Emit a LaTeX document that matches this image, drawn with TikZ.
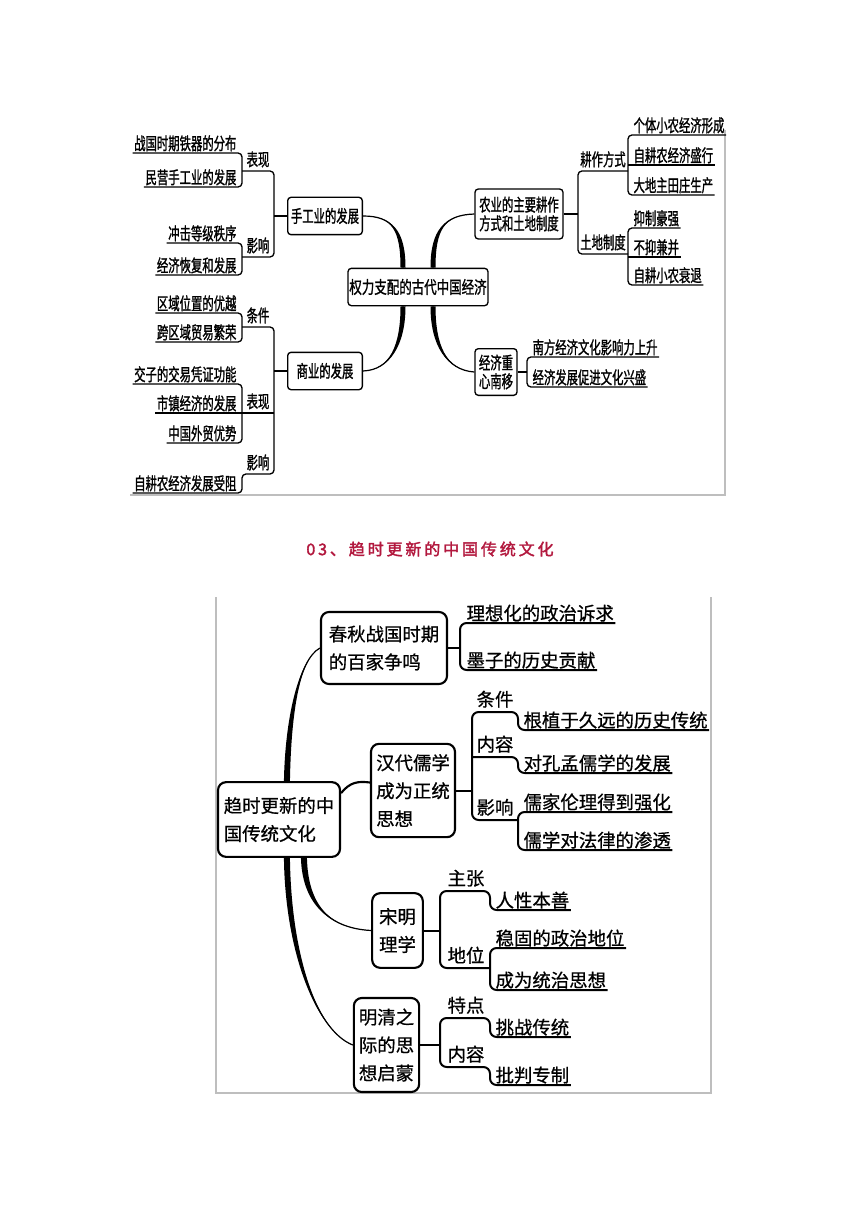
\documentclass[tikz,border=0pt]{standalone}
\usepackage{fontspec}
\newfontfamily\cjk[FakeBold=0.7]{Noto Sans CJK SC}
\newfontfamily\cjkn[FakeStretch=0.655,FakeBold=1.2]{Noto Sans CJK SC}
\newfontfamily\cjkc[FakeStretch=0.72,FakeBold=1.2]{Noto Sans CJK SC}
\newfontfamily\cjkt[LetterSpace=18,FakeBold=2.2]{Noto Sans CJK SC}
\usetikzlibrary{calc}
\definecolor{titlered}{RGB}{178,24,62}
\definecolor{framegray}{RGB}{190,190,190}
\newcommand\taperline[5]{%
  \fill ($(#1)+(-#5,0)$) .. controls ($(#2)+(-#5,0)$) and (#3) .. (#4)
        .. controls (#3) and ($(#2)+(#5,0)$) .. ($(#1)+(#5,0)$) -- cycle;
  \draw[line width=0.9pt] (#1) .. controls (#2) and (#3) .. (#4);}
\begin{document}
\begin{tikzpicture}[x=0.75pt,y=-0.75pt,
  tfont/.style={font=\cjkn\fontsize{13}{13.5}\selectfont},
  tbox/.style={draw, line width=1pt, rounded corners=2.5pt, fill=white, align=center, inner sep=1pt, tfont},
  litem/.style={anchor=south east, inner xsep=1pt, inner ysep=1pt, tfont},
  ritem/.style={anchor=south west, inner xsep=1pt, inner ysep=1pt, tfont},
  tlab/.style={anchor=south, inner xsep=1pt, inner ysep=2.5pt, tfont},
  tconn/.style={line width=1pt, rounded corners=3pt},
  bfont/.style={font=\cjk\fontsize{13.8}{21}\selectfont},
  bbox/.style={draw, line width=1.6pt, rounded corners=6pt, fill=white, align=left, inner sep=2pt, bfont},
  bitem/.style={anchor=south west, inner xsep=1pt, inner ysep=0.8pt, bfont},
  blab/.style={anchor=south, inner xsep=1pt, inner ysep=3pt, bfont},
  bconn/.style={line width=1.5pt, rounded corners=5pt},
  grayframe/.style={draw=framegray, line width=0.8pt}
]
\useasboundingbox (0,0) rectangle (860,1216);

% ---------- frames ----------
\draw[grayframe] (725,130) -- (725,495) -- (130,495);
\draw[grayframe] (216,597) -- (216,1093) -- (711,1093) -- (711,597);

% ---------- top diagram boxes ----------
\node[tbox, font=\cjkc\fontsize{13}{15}\selectfont, minimum width=98pt, minimum height=28pt] (root1) at (418,287) {权力支配的古代中国经济};
\node[tbox, minimum width=56pt, minimum height=28pt] (hand) at (325,216) {手工业的发展};
\node[tbox, minimum width=56pt, minimum height=28pt] (comm) at (325,371) {商业的发展};
\node[tbox, font=\cjkn\fontsize{13}{14}\selectfont, minimum width=66pt, minimum height=37.5pt] (agri) at (519,214) {农业的主要耕作\\方式和土地制度};
\node[tbox, font=\cjkn\fontsize{13}{14}\selectfont, minimum width=31.5pt, minimum height=35pt] (south) at (496,372) {经济重\\心南移};

% tapered branches from the root
\coordinate (s1) at ($(root1.north)+(-15,0)$);
\coordinate (k1) at (403,230); \coordinate (k2) at (392,216);
\taperline{s1}{k1}{k2}{hand.east}{2.5}
\coordinate (s2) at ($(root1.north)+(15,0)$);
\coordinate (k3) at (433,230); \coordinate (k4) at (444,215);
\taperline{s2}{k3}{k4}{agri.west}{2.5}
\coordinate (s3) at ($(root1.south)+(-15,0)$);
\coordinate (k5) at (403,345); \coordinate (k6) at (390,370);
\taperline{s3}{k5}{k6}{comm.east}{2.5}
\coordinate (s4) at ($(root1.south)+(15,0)$);
\coordinate (k7) at (433,345); \coordinate (k8) at (446,370);
\taperline{s4}{k7}{k8}{south.west}{2.5}

% ---------- hand group ----------
\coordinate (LA) at (242,0);
\coordinate (MA) at (274,0);
\node[litem] (a1) at (238,153) {战国时期铁器的分布};
\node[litem] (a2) at (238,187) {民营手工业的发展};
\node[tlab] (labA) at (258,171) {表现};
\node[litem] (a3) at (238,243) {冲击等级秩序};
\node[litem] (a4) at (238,275) {经济恢复和发展};
\node[tlab] (labB) at (258,257) {影响};
\draw[tconn] (a1.south west) -- (LA |- a1.south) -- (LA |- a2.south) -- (a2.south west);
\draw[tconn] (a3.south west) -- (LA |- a3.south) -- (LA |- a4.south) -- (a4.south west);
\draw[tconn] (LA |- labA.south) -- (MA |- labA.south) -- (MA |- labB.south) -- (LA |- labB.south);
\draw[tconn] (hand.west) -- (MA |- hand.west);

% ---------- commerce group ----------
\node[litem] (b1) at (238,313) {区域位置的优越};
\node[litem] (b2) at (238,342) {跨区域贸易繁荣};
\node[tlab] (labC) at (258,327) {条件};
\node[litem] (b3) at (238,384) {交子的交易凭证功能};
\node[litem] (b4) at (238,413) {市镇经济的发展};
\node[litem] (b5) at (238,443) {中国外贸优势};
\node[tlab] (labD) at (258,413) {表现};
\node[litem] (b6) at (238,493) {自耕农经济发展受阻};
\node[tlab] (labE) at (258,474) {影响};
\draw[tconn] (b1.south west) -- (LA |- b1.south) -- (LA |- b2.south) -- (b2.south west);
\draw[tconn] (b3.south west) -- (LA |- b3.south) -- (LA |- b5.south) -- (b5.south west);
\draw[tconn] (b4.south west) -- (LA |- b4.south);
\draw[tconn] (LA |- labC.south) -- (MA |- labC.south) -- (MA |- labE.south) -- (LA |- labE.south) -- (LA |- b6.south) -- (b6.south west);
\draw[tconn] (LA |- labD.south) -- (MA |- labD.south);
\draw[tconn] (comm.west) -- (MA |- comm.west);

% ---------- agriculture group ----------
\coordinate (MR) at (578,0);
\coordinate (LR) at (628,0);
\node[tlab] (labF) at (603,171) {耕作方式};
\node[ritem] (c1) at (632,135) {个体小农经济形成};
\node[ritem] (c2) at (632,165) {自耕农经济盛行};
\node[ritem] (c3) at (632,195) {大地主田庄生产};
\node[tlab] (labG) at (603,254) {土地制度};
\node[ritem] (c4) at (632,228) {抑制豪强};
\node[ritem] (c5) at (632,257) {不抑兼并};
\node[ritem] (c6) at (632,285) {自耕小农衰退};
\draw[tconn] (c1.south east) -- (LR |- c1.south) -- (LR |- c3.south) -- (c3.south east);
\draw[tconn] (c2.south east) -- (LR |- c2.south);
\draw[tconn] (c4.south east) -- (LR |- c4.south) -- (LR |- c6.south) -- (c6.south east);
\draw[tconn] (c5.south east) -- (LR |- c5.south);
\draw[tconn] (LR |- labF.south) -- (MR |- labF.south) -- (MR |- labG.south) -- (LR |- labG.south);
\draw[tconn] (agri.east) -- (MR |- agri.east);

% ---------- south group ----------
\coordinate (LS) at (527,0);
\node[ritem] (d1) at (531,357) {南方经济文化影响力上升};
\node[ritem] (d2) at (531,387) {经济发展促进文化兴盛};
\draw[tconn] (d1.south east) -- (LS |- d1.south) -- (LS |- d2.south) -- (d2.south east);
\draw[tconn] (south.east) -- (LS |- south.east);

% ---------- title ----------
\node[font=\cjkt\fontsize{12}{14}\selectfont, text=titlered] (title) at (430,549) {03、趋时更新的中国传统文化};

% ---------- bottom diagram boxes ----------
\node[bbox, minimum width=91.5pt, minimum height=56pt] (root2) at (279,819.5) {趋时更新的中\\国传统文化};
\node[bbox, minimum width=94.5pt, minimum height=54pt] (cq) at (384,648) {春秋战国时期\\的百家争鸣};
\node[bbox, minimum width=63pt, minimum height=70pt] (hd) at (413,790.5) {汉代儒学\\成为正统\\思想};
\node[bbox, minimum width=38pt, minimum height=56pt] (sm) at (397.5,930.5) {宋明\\理学};
\node[bbox, minimum width=49pt, minimum height=70.5pt] (mq) at (386.5,1045) {明清之\\际的思\\想启蒙};

% branches from root2
\coordinate (s5) at ($(root2.north west)+(70,0)$);
\coordinate (k9) at (288,720); \coordinate (k10) at (298,660);
\taperline{s5}{k9}{k10}{cq.west}{3}
\coordinate (s6) at ($(root2.north east)+(0,12)$);
\coordinate (e6) at ($(hd.west)+(0,-8)$);
\draw[line width=1.6pt] (s6) .. controls (350,782) and (358,781) .. (e6);
\coordinate (s7) at ($(root2.south west)+(87,0)$);
\coordinate (k11) at (305,900); \coordinate (k12) at (325,928);
\taperline{s7}{k11}{k12}{sm.west}{3}
\coordinate (s8) at ($(root2.south west)+(70,0)$);
\coordinate (k13) at (288,950); \coordinate (k14) at (315,1030);
\taperline{s8}{k13}{k14}{mq.west}{3}

% ---------- cq group ----------
\coordinate (LC) at (460,0);
\node[bitem] (e1) at (465,623) {理想化的政治诉求};
\node[bitem] (e2) at (465,670) {墨子的历史贡献};
\draw[bconn] (e1.south east) -- (LC |- e1.south) -- (LC |- e2.south) -- (e2.south east);
\draw[bconn] (cq.east) -- (LC |- cq.east);

% ---------- hd group ----------
\coordinate (MH) at (472,0);
\coordinate (LH) at (518,0);
\node[blab] (labH) at (495,712) {条件};
\node[bitem] (f1) at (522,730) {根植于久远的历史传统};
\node[blab] (labI) at (495,757) {内容};
\node[bitem] (f2) at (522,773) {对孔孟儒学的发展};
\node[blab] (labJ) at (495,820) {影响};
\node[bitem] (f3) at (522,812) {儒家伦理得到强化};
\node[bitem] (f4) at (522,850) {儒学对法律的渗透};
\draw[bconn] (f1.south east) -- (LH |- f1.south) -- (LH |- labH.south) -- (MH |- labH.south) -- (MH |- labJ.south) -- (LH |- labJ.south);
\draw[bconn] (MH |- labI.south) -- (LH |- labI.south) -- (LH |- f2.south) -- (f2.south east);
\draw[bconn] (f3.south east) -- (LH |- f3.south) -- (LH |- f4.south) -- (f4.south east);
\draw[bconn] (hd.east) -- (MH |- hd.east);

% ---------- sm group ----------
\coordinate (MS) at (440,0);
\coordinate (LT) at (490,0);
\node[blab] (labK) at (466,891) {主张};
\node[bitem] (g1) at (494,910) {人性本善};
\node[blab] (labL) at (466,968) {地位};
\node[bitem] (g2) at (494,948) {稳固的政治地位};
\node[bitem] (g3) at (494,990) {成为统治思想};
\draw[bconn] (g1.south east) -- (LT |- g1.south) -- (LT |- labK.south) -- (MS |- labK.south) -- (MS |- labL.south) -- (LT |- labL.south);
\draw[bconn] (g2.south east) -- (LT |- g2.south) -- (LT |- g3.south) -- (g3.south east);
\draw[bconn] (sm.east) -- (MS |- sm.east);

% ---------- mq group ----------
\node[blab] (labM) at (466,1018) {特点};
\node[bitem] (h1) at (494,1037) {挑战传统};
\node[blab] (labN) at (466,1067) {内容};
\node[bitem] (h2) at (494,1085) {批判专制};
\draw[bconn] (h1.south east) -- (LT |- h1.south) -- (LT |- labM.south) -- (MS |- labM.south) -- (MS |- labN.south) -- (LT |- labN.south) -- (LT |- h2.south) -- (h2.south east);
\draw[bconn] (mq.east) -- (MS |- mq.east);
\end{tikzpicture}
\end{document}
